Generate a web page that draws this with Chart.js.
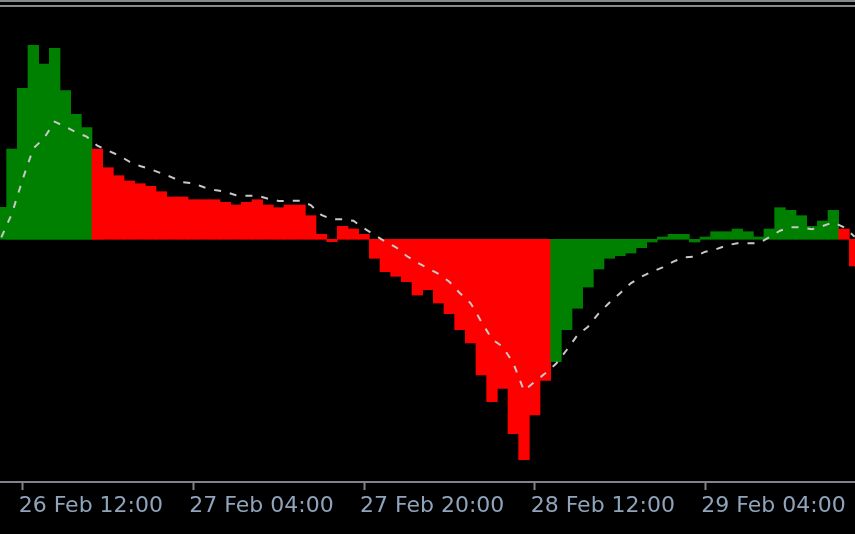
<!DOCTYPE html>
<html>
<head>
<meta charset="utf-8">
<script src="https://cdn.jsdelivr.net/npm/chart.js@4.4.1/dist/chart.umd.min.js"></script>
<style>
  html, body { margin: 0; padding: 0; background: #000; width: 855px; height: 534px; overflow: hidden; position: relative; }
  #c { position: absolute; left: -4px; top: 0; z-index: 1; }
  .sep { position: absolute; left: 0; width: 855px; height: 2px; background: #86888f; z-index: 2; }
</style>
</head>
<body>
<canvas id="c" width="864" height="534"></canvas>
<div class="sep" style="top:0"></div>
<div class="sep" style="top:5px"></div>
<script>
// Hourly bar times (categories)
const categories = [
  "26 Feb 10:00","26 Feb 11:00","26 Feb 12:00","26 Feb 13:00","26 Feb 14:00","26 Feb 15:00","26 Feb 16:00",
  "26 Feb 17:00","26 Feb 18:00","26 Feb 19:00","26 Feb 20:00","26 Feb 21:00","26 Feb 22:00","26 Feb 23:00",
  "27 Feb 00:00","27 Feb 01:00","27 Feb 02:00","27 Feb 03:00","27 Feb 04:00","27 Feb 05:00","27 Feb 06:00",
  "27 Feb 07:00","27 Feb 08:00","27 Feb 09:00","27 Feb 10:00","27 Feb 11:00","27 Feb 12:00","27 Feb 13:00",
  "27 Feb 14:00","27 Feb 15:00","27 Feb 16:00","27 Feb 17:00","27 Feb 18:00","27 Feb 19:00","27 Feb 20:00",
  "27 Feb 21:00","27 Feb 22:00","27 Feb 23:00",
  "28 Feb 00:00","28 Feb 01:00","28 Feb 02:00","28 Feb 03:00","28 Feb 04:00","28 Feb 05:00","28 Feb 06:00",
  "28 Feb 07:00","28 Feb 08:00","28 Feb 09:00","28 Feb 10:00","28 Feb 11:00","28 Feb 12:00","28 Feb 13:00",
  "28 Feb 14:00","28 Feb 15:00","28 Feb 16:00","28 Feb 17:00","28 Feb 18:00","28 Feb 19:00","28 Feb 20:00",
  "28 Feb 21:00","28 Feb 22:00","28 Feb 23:00",
  "29 Feb 00:00","29 Feb 01:00","29 Feb 02:00","29 Feb 03:00","29 Feb 04:00","29 Feb 05:00","29 Feb 06:00",
  "29 Feb 07:00","29 Feb 08:00","29 Feb 09:00","29 Feb 10:00","29 Feb 11:00","29 Feb 12:00","29 Feb 13:00",
  "29 Feb 14:00","29 Feb 15:00","29 Feb 16:00","29 Feb 17:00","29 Feb 18:00"
];

// MACD histogram values
const macdValues = [
  32, 90.3, 151, 194, 175.3, 191, 148.6, 125, 111.6, 90.3,
  71.6, 63.6, 58.3, 55.6, 53, 47.6, 42.3, 42.3, 39.6, 39.6,
  39.6, 37, 34.3, 37, 39.6, 34.3, 31.6, 34.3, 34.3, 23.6,
  5, -2.4, 13, 10.3, 5, -19, -32.4, -37, -42.4, -55.7,
  -50.4, -63.7, -74.4, -90.4, -103.7, -135.7, -162.4, -149, -194.4, -220.4,
  -175.7, -141, -122.4, -90.4, -69, -47.7, -29.7, -19, -16.4, -13.7,
  -8.4, -2.7, 2.3, 5, 5, -2.7, 2.3, 7.6, 7.6, 10.3,
  7.6, 2.3, 10.3, 31.6, 29, 23.6, 13, 18.3, 29, 10.3,
  -26.7
];

// Signal line values
const signalValues = [
  2, 26, 60, 91, 101, 117.6, 112.6, 107, 102.6, 93.6,
  88.6, 84, 77.6, 73.3, 70, 66, 62, 57, 56, 52,
  49.3, 47.6, 44, 43.6, 43.6, 40.6, 38.3, 38.5, 38.5, 34.3,
  24.3, 20, 20, 18.6, 11, 4.3, -2.4, -8, -16.7, -23.4,
  -29, -34.7, -42.4, -54, -64, -82.4, -100, -107.4, -124, -151.4,
  -142.4, -134, -124.5, -110.7, -96, -87.4, -74, -63.4, -54, -44,
  -37.4, -32.4, -28, -22.4, -18, -17.4, -12.4, -10, -6, -4,
  -4, -4, 2, 8.6, 12, 12, 10, 13.3, 17, 12,
  2.6
];

// Labelled time ticks
const tickLabels = ["26 Feb 12:00", "27 Feb 04:00", "27 Feb 20:00", "28 Feb 12:00", "29 Feb 04:00"];

const barColors = macdValues.map((v, i) => v > signalValues[i] ? '#008000' : '#ff0000');

new Chart(document.getElementById('c'), {
  type: 'bar',
  data: {
    labels: categories,
    datasets: [
      {
        type: 'line',
        data: signalValues,
        borderColor: '#c8c8c8',
        borderWidth: 2,
        borderDash: [7, 9],
        pointRadius: 0,
        tension: 0,
        fill: false,
        order: 0
      },
      {
        type: 'bar',
        data: macdValues,
        backgroundColor: barColors,
        borderWidth: 0,
        barPercentage: 1,
        categoryPercentage: 1,
        order: 1
      }
    ]
  },
  options: {
    responsive: false,
    animation: false,
    layout: { padding: 0 },
    plugins: { legend: { display: false }, tooltip: { enabled: false } },
    scales: {
      x: {
        offset: true,
        grid: {
          offset: false,
          drawOnChartArea: false,
          drawTicks: true,
          tickLength: 8,
          tickWidth: 2,
          color: '#80828c'
        },
        border: { display: true, color: '#80828c', width: 2 },
        ticks: {
          autoSkip: false,
          maxRotation: 0,
          minRotation: 0,
          align: 'start',
          labelOffset: -4,
          padding: 3,
          color: '#8fa4bb',
          font: { family: 'DejaVu Sans', size: 22 },
          callback: function(value) {
            const lab = this.getLabelForValue(value);
            return tickLabels.includes(lab) ? lab : null;
          }
        },
        afterFit: function(scale) { scale.height = 52; }
      },
      y: {
        display: false,
        min: -242.7,
        max: 239.3
      }
    }
  }
});
</script>
</body>
</html>
